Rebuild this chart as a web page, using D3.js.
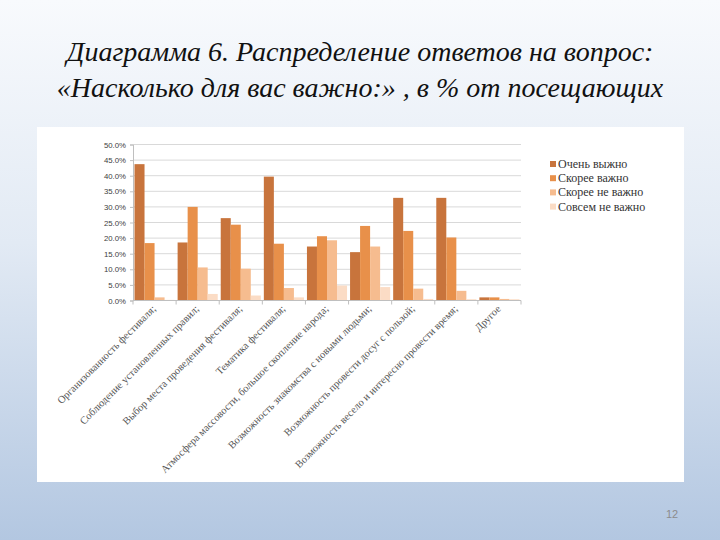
<!DOCTYPE html>
<html><head><meta charset="utf-8">
<script src="https://cdn.jsdelivr.net/npm/d3@7"></script>
<style>body{margin:0;padding:0;overflow:hidden}svg{display:block}</style>
</head><body>
<script>
const titleLines = ["Диаграмма 6. Распределение ответов на вопрос:", "«Насколько для вас важно:» , в % от посещающих"];
const categories = [
  "Организованность фестиваля;",
  "Соблюдение установленных правил;",
  "Выбор места проведения фестиваля;",
  "Тематика фестиваля;",
  "Атмосфера массовости, большое скопление народа;",
  "Возможность знакомства с новыми людьми;",
  "Возможность провести досуг с пользой;",
  "Возможность весело и интересно провести время;",
  "Другое"
];
const seriesNames = ["Очень выжно", "Скорее важно", "Скорее не важно", "Совсем не важно"];
const veryImportant   = [43.7, 18.6, 26.4, 39.7, 17.3, 15.5, 32.9, 32.9, 1.0];
const ratherImportant = [18.4, 30.0, 24.3, 18.2, 20.6, 23.9, 22.3, 20.2, 1.0];
const ratherNot       = [1.0, 10.6, 10.2, 4.0, 19.3, 17.3, 3.8, 3.1, 0.5];
const notAtAll        = [0.2, 2.1, 1.6, 1.0, 4.8, 4.3, 0.5, 0.4, 0.4];
const yTicks = [0, 5, 10, 15, 20, 25, 30, 35, 40, 45, 50];
const pageNumber = "12";

const series = [veryImportant, ratherImportant, ratherNot, notAtAll];
const colors = ["#c8743c", "#e8904a", "#f6bc8f", "#fbdcc5"];
const SERIF = "'Liberation Serif', 'Times New Roman', serif";
const SANS = "'Liberation Sans', Arial, sans-serif";

const W = 720, H = 540;
const svg = d3.select("body").append("svg").attr("width", W).attr("height", H);

const defs = svg.append("defs");
const grad = defs.append("linearGradient").attr("id", "bg").attr("x1", 0).attr("y1", 0).attr("x2", 0).attr("y2", 1);
grad.append("stop").attr("offset", "0%").attr("stop-color", "#f8fafd");
grad.append("stop").attr("offset", "45%").attr("stop-color", "#e2eaf4");
grad.append("stop").attr("offset", "100%").attr("stop-color", "#b3c7e1");
svg.append("rect").attr("width", W).attr("height", H).attr("fill", "url(#bg)");

// title
svg.append("g").selectAll("text").data(titleLines).join("text")
  .attr("x", 360).attr("y", (d, i) => 61 + i * 36)
  .attr("text-anchor", "middle")
  .style("font-family", SERIF)
  .style("font-style", "italic")
  .style("font-size", "28px")
  .attr("fill", "#111")
  .text(d => d);

// white panel
svg.append("rect").attr("x", 37).attr("y", 127).attr("width", 647).attr("height", 355).attr("fill", "#ffffff");

const plotL = 133, plotR = 521, plotT = 144.5, plotB = 300.5;
const x = d3.scaleBand().domain(categories).range([plotL, plotR]).paddingInner(0).paddingOuter(0);
const y = d3.scaleLinear().domain([0, 50]).range([plotB, plotT]);
const xInner = d3.scaleBand().domain(d3.range(series.length)).range([0, x.bandwidth()]).paddingOuter(0.15).paddingInner(0);

// grid
svg.append("g").selectAll("line").data(yTicks.filter(t => t > 0)).join("line")
  .attr("x1", plotL).attr("x2", plotR)
  .attr("y1", d => y(d)).attr("y2", d => y(d))
  .attr("stroke", "#d9d9d9").attr("stroke-width", 1);

// y axis
const yAxis = d3.axisLeft(y).tickValues(yTicks).tickFormat(d => d.toFixed(1) + "%").tickSize(3).tickPadding(4);
const gy = svg.append("g").attr("transform", `translate(${plotL},0)`).call(yAxis);
gy.select(".domain").attr("stroke", "#bfbfbf");
gy.selectAll(".tick line").attr("stroke", "#bfbfbf");
gy.selectAll(".tick text").style("font-family", SANS).style("font-size", "7.8px").attr("fill", "#404040");

// bars
const groups = svg.append("g").selectAll("g").data(categories).join("g")
  .attr("transform", d => `translate(${x(d)},0)`);
groups.selectAll("rect").data((d, i) => series.map((s, j) => ({ v: s[i], j }))).join("rect")
  .attr("x", d => xInner(d.j))
  .attr("width", xInner.bandwidth())
  .attr("y", d => y(d.v))
  .attr("height", d => plotB - y(d.v))
  .attr("fill", d => colors[d.j]);

// x axis
const gx = svg.append("g").attr("transform", `translate(0,${plotB})`);
gx.append("line").attr("x1", plotL).attr("x2", plotR).attr("stroke", "#bfbfbf");
const boundaries = categories.map(c => x(c)).concat([plotR]);
gx.selectAll("line.tk").data(boundaries).join("line").attr("class", "tk")
  .attr("x1", d => d).attr("x2", d => d).attr("y1", 0).attr("y2", 4)
  .attr("stroke", "#bfbfbf");
gx.selectAll("text").data(categories).join("text")
  .attr("transform", d => `translate(${x(d) + x.bandwidth() / 2 + 2},9) rotate(-45)`)
  .attr("text-anchor", "end")
  .style("font-family", SERIF)
  .style("font-size", "10.5px")
  .attr("fill", "#555")
  .text(d => d);

// legend
const lg = svg.append("g").attr("transform", "translate(550,165)");
const li = lg.selectAll("g").data(seriesNames).join("g").attr("transform", (d, i) => `translate(0,${i * 14.2})`);
li.append("rect").attr("x", 0).attr("y", -4).attr("width", 6).attr("height", 6).attr("fill", (d, i) => colors[i]);
li.append("text").attr("x", 8).attr("y", 3)
  .style("font-family", SERIF)
  .style("font-size", "12px").attr("fill", "#333").text(d => d);

// page number
svg.append("text").attr("x", 672).attr("y", 518).attr("text-anchor", "middle")
  .style("font-family", SANS).style("font-size", "11px").attr("fill", "#8c8c8c").text(pageNumber);
</script>
</body></html>
